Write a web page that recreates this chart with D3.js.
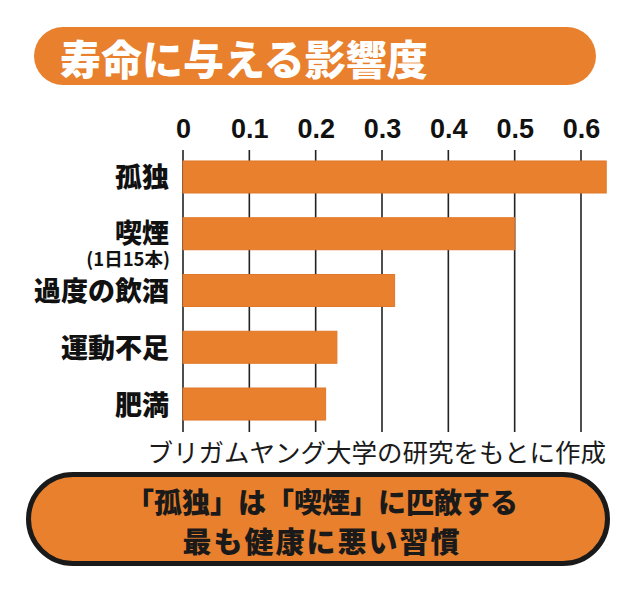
<!DOCTYPE html>
<html><head><meta charset="utf-8">
<script src="https://cdn.jsdelivr.net/npm/d3@7"></script>
<style>html,body{margin:0;padding:0;background:#fff;}svg{display:block;}</style>
</head><body>
<svg id="c" width="640" height="594"></svg>
<script>
const categories = ["孤独", "喫煙", "過度の飲酒", "運動不足", "肥満"];
const subLabels = ["", "(1日15本)", "", "", ""];
const values = [0.638, 0.50, 0.319, 0.232, 0.215];
const tickValues = [0, 0.1, 0.2, 0.3, 0.4, 0.5, 0.6];
const titleText = "寿命に与える影響度";
const sourceText = "ブリガムヤング大学の研究をもとに作成";
const noteLines = ["「孤独」は「喫煙」に匹敵する", "最も健康に悪い習慣"];

const orange = "#E8802E";
const jp = "'Noto Sans CJK JP','Noto Sans',sans-serif";
const svg = d3.select("#c");

// title pill
svg.append("rect").attr("x", 34).attr("y", 27).attr("width", 562).attr("height", 58)
  .attr("rx", 29).attr("fill", orange);
svg.append("text").attr("x", 60).attr("y", 57).attr("dominant-baseline", "central")
  .attr("font-family", jp).attr("font-weight", 900).attr("font-size", 41)
  .attr("fill", "#fff").text(titleText);

const x = d3.scaleLinear().domain([0, 0.6]).range([183, 581]);
const y = d3.scaleBand().domain(categories).range([148.6, 432.4])
  .paddingInner(0.436).paddingOuter(0.218);

// grid lines
svg.append("g").selectAll("line").data(tickValues).join("line")
  .attr("x1", d => x(d)).attr("x2", d => x(d))
  .attr("y1", 150).attr("y2", 432)
  .attr("stroke", "#222").attr("stroke-width", 1.6);

// tick labels via axis
const axis = svg.append("g").attr("transform", "translate(0,150)")
  .call(d3.axisTop(x).tickValues(tickValues).tickFormat(d => d === 0 ? "0" : d3.format(".1f")(d)).tickSize(0).tickPadding(12));
axis.select(".domain").remove();
axis.selectAll("text").attr("font-family", "'Liberation Sans',Arial,sans-serif")
  .attr("font-weight", 700).attr("font-size", 27).attr("fill", "#111");

// bars
svg.append("g").selectAll("rect").data(categories).join("rect")
  .attr("x", x(0)).attr("y", d => y(d))
  .attr("width", (d, i) => x(values[i]) - x(0))
  .attr("height", y.bandwidth())
  .attr("fill", orange).attr("stroke", "#e0772a").attr("stroke-width", 1);

// category labels
svg.append("g").selectAll("text").data(categories).join("text")
  .attr("x", 169).attr("y", (d, i) => y(d) + y.bandwidth() / 2 - (subLabels[i] ? 2.5 : 1))
  .attr("text-anchor", "end").attr("dominant-baseline", "central")
  .attr("font-family", jp).attr("font-weight", 900).attr("font-size", 27)
  .attr("fill", "#111").text(d => d);
svg.append("g").selectAll("text").data(subLabels.filter(s => s)).join("text")
  .attr("x", 170).attr("y", y(categories[1]) + y.bandwidth() / 2 + 24)
  .attr("text-anchor", "end").attr("dominant-baseline", "central")
  .attr("font-family", jp).attr("font-weight", 700).attr("font-size", 18.5)
  .attr("fill", "#111").text(d => d);

// source
svg.append("text").attr("x", 606).attr("y", 462).attr("text-anchor", "end")
  .attr("font-family", jp).attr("font-weight", 400).attr("font-size", 25.5)
  .attr("fill", "#1a1a1a").text(sourceText);

// bottom pill
svg.append("rect").attr("x", 28.5).attr("y", 474.5).attr("width", 579).attr("height", 89)
  .attr("rx", 44.5).attr("fill", orange).attr("stroke", "#1a1a1a").attr("stroke-width", 5);
svg.append("g").selectAll("text").data(noteLines).join("text")
  .attr("x", 322).attr("y", (d, i) => 501 + i * 39)
  .attr("text-anchor", "middle").attr("dominant-baseline", "central")
  .attr("font-family", jp).attr("font-weight", 900)
  .attr("font-size", (d, i) => i === 0 ? 28 : 29)
  .attr("letter-spacing", (d, i) => i === 0 ? 0 : 2)
  .attr("fill", "#1a1a1a").text(d => d);
</script>
</body></html>
